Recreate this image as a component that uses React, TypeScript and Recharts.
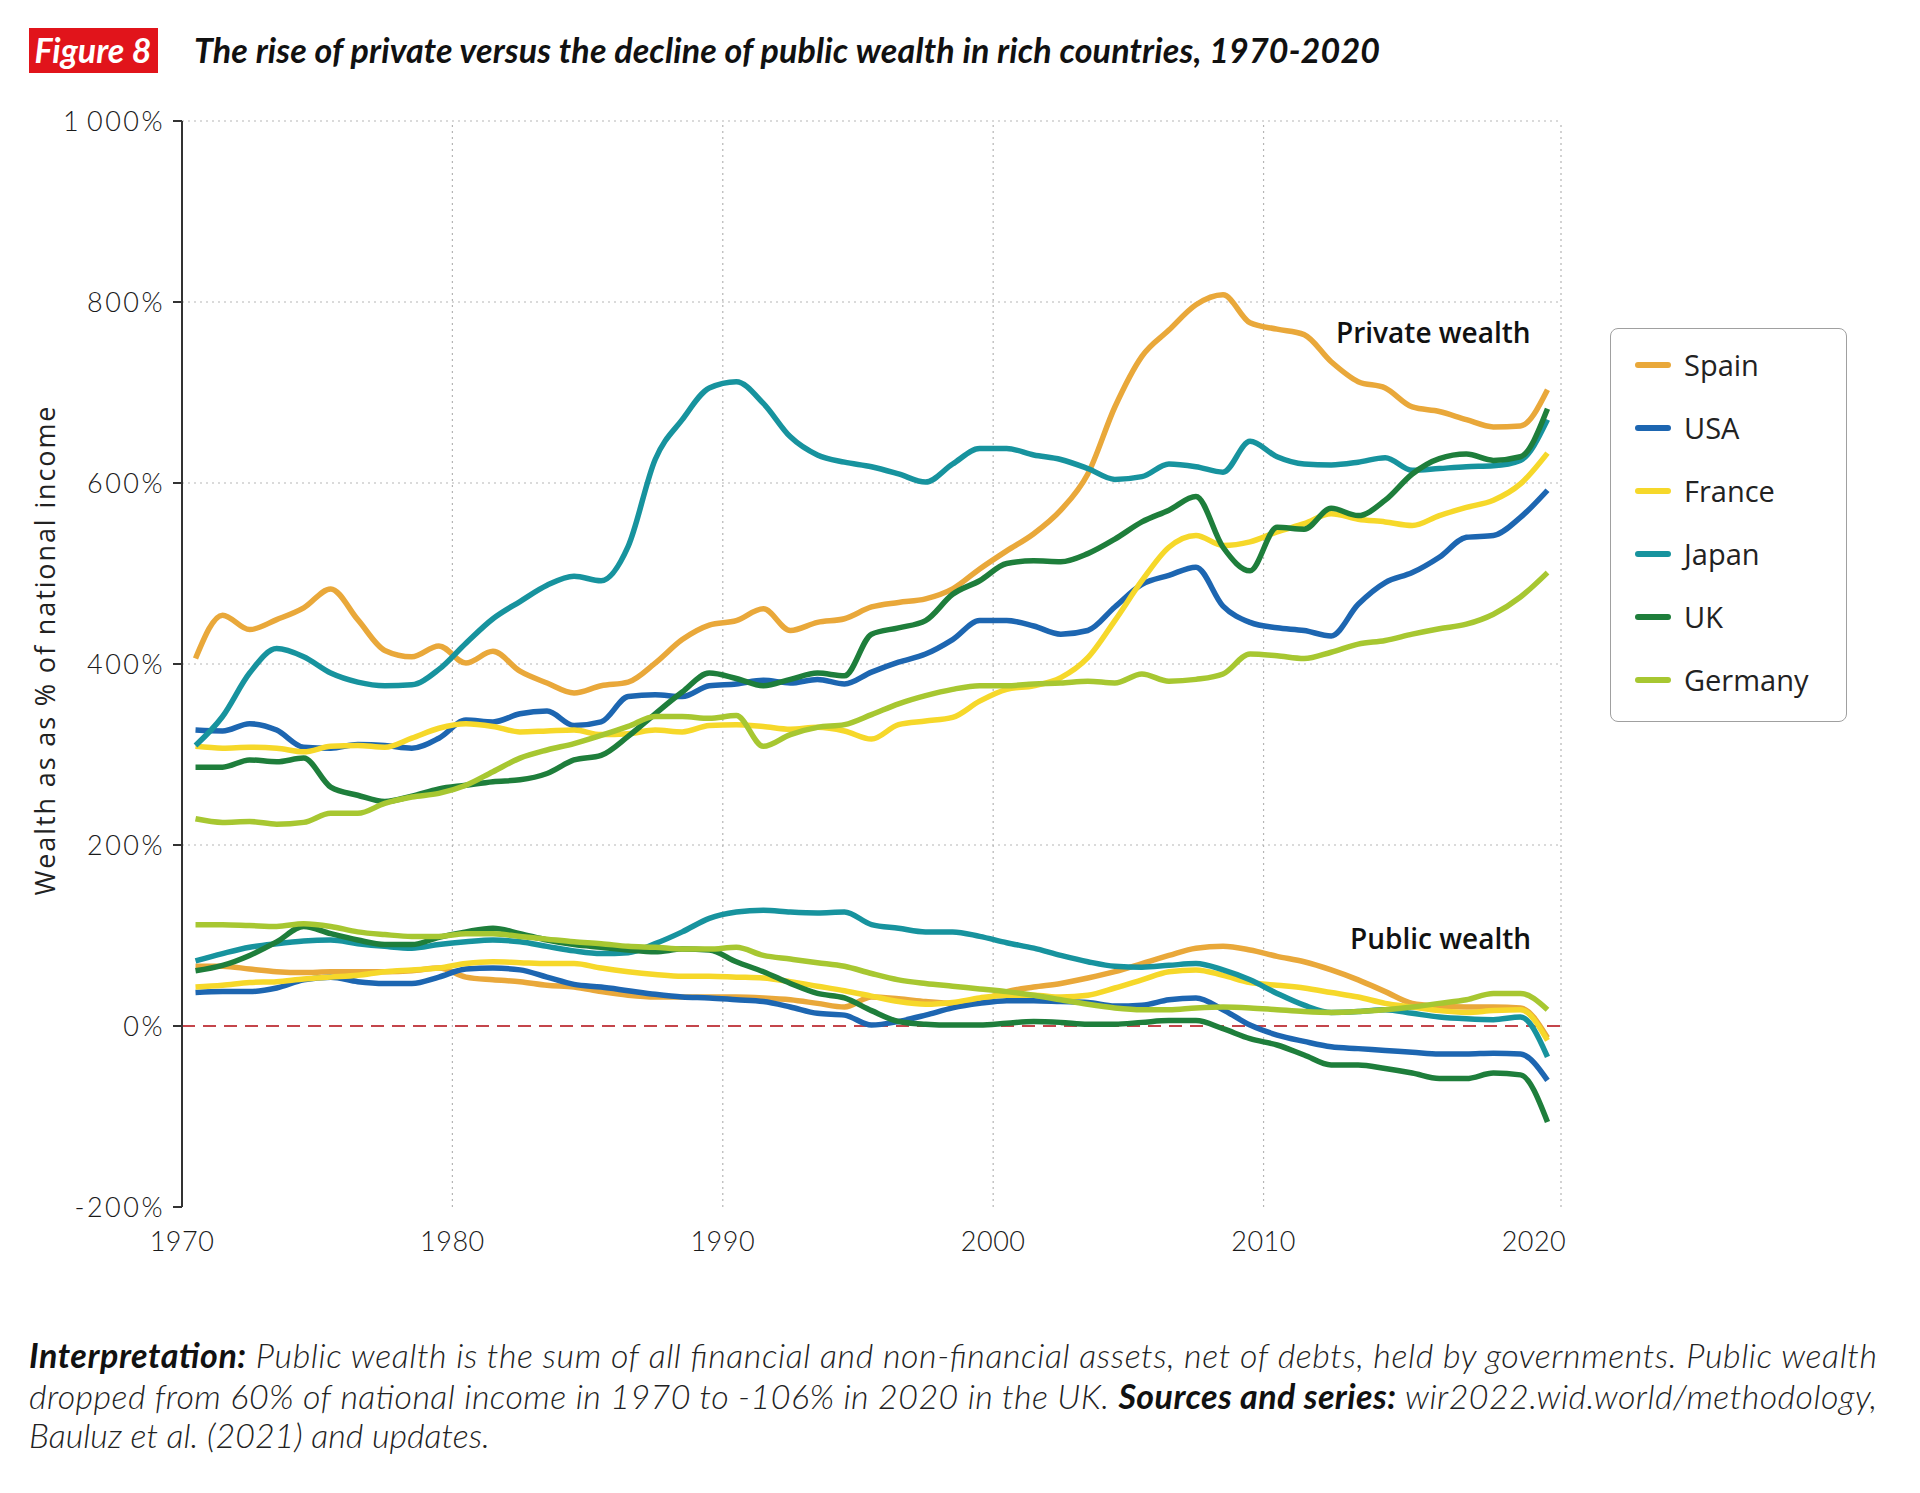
import React from 'react';
import { LineChart, Line, XAxis, YAxis, ReferenceLine, Legend } from 'recharts';

const YEARS = [
  1970, 1971, 1972, 1973, 1974, 1975, 1976, 1977, 1978, 1979,
  1980, 1981, 1982, 1983, 1984, 1985, 1986, 1987, 1988, 1989,
  1990, 1991, 1992, 1993, 1994, 1995, 1996, 1997, 1998, 1999,
  2000, 2001, 2002, 2003, 2004, 2005, 2006, 2007, 2008, 2009,
  2010, 2011, 2012, 2013, 2014, 2015, 2016, 2017, 2018, 2019, 2020,
];

const COUNTRIES = ['Spain', 'USA', 'France', 'Japan', 'UK', 'Germany'];
const COLORS = ['#E9A83A', '#1D66B1', '#F6D82A', '#17939E', '#1E7E3B', '#A7C731'];

// private wealth, % of national income
const SPAIN_PRIVATE = [406, 454, 438, 449, 462, 483, 449, 415, 408, 420, 401, 414, 392, 379, 368, 376, 380, 401, 427, 443, 448, 461, 437, 446, 450, 463, 468, 472, 483, 505, 525, 544, 570, 610, 684, 740, 769, 797, 808, 777, 770, 764, 734, 712, 705, 684, 679, 670, 662, 663, 703];
const USA_PRIVATE = [327, 326, 334, 327, 308, 307, 311, 310, 307, 318, 338, 336, 345, 348, 332, 336, 364, 366, 364, 376, 378, 382, 379, 383, 378, 391, 402, 411, 427, 448, 448, 442, 433, 437, 463, 488, 498, 507, 464, 446, 440, 437, 431, 466, 490, 501, 518, 540, 542, 562, 592];
const FRANCE_PRIVATE = [309, 307, 308, 307, 303, 309, 310, 308, 318, 329, 334, 331, 325, 326, 327, 322, 323, 327, 325, 332, 333, 331, 328, 330, 326, 317, 333, 337, 341, 359, 372, 376, 385, 407, 448, 492, 529, 542, 531, 535, 546, 555, 566, 560, 557, 553, 564, 573, 581, 599, 633];
const JAPAN_PRIVATE = [310, 342, 390, 417, 408, 390, 380, 376, 377, 394, 423, 450, 469, 487, 497, 492, 530, 626, 670, 705, 712, 688, 651, 631, 623, 618, 610, 601, 621, 638, 638, 631, 626, 616, 604, 607, 621, 618, 612, 646, 629, 621, 620, 623, 628, 614, 616, 618, 619, 625, 670];
const UK_PRIVATE = [286, 286, 294, 292, 296, 264, 255, 248, 254, 262, 266, 270, 272, 279, 294, 299, 320, 345, 369, 390, 384, 376, 383, 390, 387, 433, 440, 448, 477, 492, 511, 514, 513, 522, 538, 557, 570, 585, 529, 503, 551, 549, 572, 564, 581, 610, 627, 632, 625, 629, 682];
const GERMANY_PRIVATE = [229, 225, 226, 223, 225, 235, 235, 246, 253, 257, 266, 281, 296, 305, 312, 321, 331, 342, 342, 340, 343, 309, 322, 330, 333, 344, 356, 365, 372, 376, 376, 378, 379, 381, 379, 389, 381, 383, 389, 411, 409, 406, 413, 422, 426, 433, 439, 444, 455, 474, 501];

// public wealth, % of national income
const SPAIN_PUBLIC = [66, 66, 63, 60, 59, 60, 60, 60, 61, 64, 54, 51, 49, 45, 43, 38, 34, 32, 32, 32, 32, 31, 29, 25, 21, 32, 30, 27, 25, 28, 38, 43, 47, 53, 60, 69, 78, 86, 88, 84, 77, 71, 62, 51, 38, 25, 22, 21, 21, 20, -13];
const USA_PUBLIC = [37, 38, 38, 42, 51, 54, 49, 47, 47, 54, 63, 64, 62, 54, 46, 43, 39, 35, 32, 31, 29, 27, 21, 14, 12, 1, 5, 12, 20, 25, 28, 28, 27, 26, 22, 23, 29, 31, 18, 1, -10, -17, -23, -25, -27, -29, -31, -31, -30, -31, -60];
const FRANCE_PUBLIC = [43, 45, 48, 49, 52, 54, 56, 60, 62, 64, 69, 71, 70, 69, 69, 64, 60, 57, 55, 55, 54, 53, 49, 44, 39, 33, 27, 24, 26, 31, 34, 34, 32, 34, 42, 51, 60, 62, 56, 48, 45, 42, 37, 32, 25, 21, 17, 15, 17, 18, -16];
const JAPAN_PUBLIC = [72, 80, 87, 91, 94, 95, 91, 88, 86, 90, 93, 95, 93, 88, 83, 80, 81, 91, 104, 119, 126, 128, 126, 125, 126, 112, 108, 104, 104, 99, 92, 86, 78, 71, 66, 65, 67, 69, 62, 51, 36, 23, 15, 16, 18, 14, 10, 8, 7, 10, -34];
const UK_PUBLIC = [61, 67, 78, 93, 110, 102, 95, 90, 90, 98, 104, 108, 102, 95, 90, 87, 84, 82, 85, 84, 71, 60, 47, 36, 31, 17, 5, 2, 1, 1, 3, 5, 4, 2, 2, 4, 6, 6, -3, -14, -21, -32, -43, -43, -47, -52, -58, -58, -52, -54, -106];
const GERMANY_PUBLIC = [112, 112, 111, 110, 113, 110, 104, 101, 99, 99, 102, 102, 99, 96, 93, 91, 88, 87, 85, 85, 87, 78, 74, 70, 66, 58, 51, 47, 44, 41, 38, 34, 29, 24, 20, 18, 18, 20, 21, 20, 18, 16, 15, 16, 18, 21, 25, 29, 36, 36, 18];

const PRIVATE = [SPAIN_PRIVATE, USA_PRIVATE, FRANCE_PRIVATE, JAPAN_PRIVATE, UK_PRIVATE, GERMANY_PRIVATE];
const PUBLIC = [SPAIN_PUBLIC, USA_PUBLIC, FRANCE_PUBLIC, JAPAN_PUBLIC, UK_PUBLIC, GERMANY_PUBLIC];

const Y_TICKS = [-200, 0, 200, 400, 600, 800, 1000];
const Y_GRID = [200, 400, 600, 800, 1000];
const YEAR_LABELS = [1970, 1980, 1990, 2000, 2010, 2020];
const AXIS_TICKS = [1970, 1980, 1990, 2000, 2010, 2021];
const X_GRID = [1980, 1990, 2000, 2010, 2021];

// values are yearly averages, drawn at mid-year
const rows = YEARS.map((year, i) => {
  const row: Record<string, number> = { x: year + 0.5 };
  COUNTRIES.forEach((c, k) => {
    row[c + '_private'] = PRIVATE[k][i];
    row[c + '_public'] = PUBLIC[k][i];
  });
  return row;
});

const fmtPct = (v: number) => (v === 1000 ? '1\u2009000%' : `${v}%`);

const gridStyle = { stroke: '#b5b5b5', strokeWidth: 1.2, strokeDasharray: '2 4' };

function LegendBox() {
  return (
    <div
      style={{
        boxSizing: 'border-box',
        width: 237,
        height: 394,
        border: '1.5px solid #a0a0a0',
        borderRadius: 8,
        background: '#fff',
        paddingTop: 4,
        paddingLeft: 24,
      }}
    >
      {COUNTRIES.map((c, i) => (
        <div key={c} style={{ height: 63, display: 'flex', alignItems: 'center' }}>
          <div style={{ width: 36, height: 6, borderRadius: 3, background: COLORS[i], marginRight: 13 }} />
          <span style={{ fontFamily: '"Open Sans", sans-serif', fontSize: 29, color: '#222' }}>{c}</span>
        </div>
      ))}
    </div>
  );
}

export default function App() {
  return (
    <div style={{ position: 'absolute', left: 0, top: 0, width: 1920, height: 1493, background: '#fff', overflow: 'hidden' }}>
      <div style={{ position: 'absolute', left: 0, top: 0 }}>
        <LineChart width={1920} height={1493} data={rows} margin={{ top: 121, right: 359, bottom: 226, left: 0 }}>
          <XAxis
            xAxisId="main"
            type="number"
            dataKey="x"
            domain={[1970, 2021]}
            ticks={AXIS_TICKS}
            tick={false}
            tickSize={9}
            height={0}
            stroke="#333"
            strokeWidth={2}
          />
          <XAxis
            xAxisId="labels"
            type="number"
            dataKey="x"
            domain={[1970, 2021]}
            ticks={YEAR_LABELS}
            interval={0}
            tickLine={false}
            axisLine={false}
            tickSize={9}
            tickMargin={16}
            height={60}
            tick={{ fill: '#1a1a1a', fontSize: 27, fontFamily: 'Lato, sans-serif', fontWeight: 300, letterSpacing: 0.5 }}
          />
          <YAxis
            type="number"
            domain={[-200, 1000]}
            ticks={Y_TICKS}
            interval={0}
            width={182}
            tickSize={9}
            tickMargin={8}
            tickFormatter={fmtPct}
            stroke="#333"
            strokeWidth={2}
            tick={{ fill: '#1a1a1a', fontSize: 27, fontFamily: 'Lato, sans-serif', fontWeight: 300, letterSpacing: 2.5 }}
          />
          {Y_GRID.map((v) => (
            <ReferenceLine key={'gy' + v} xAxisId="main" y={v} {...gridStyle} />
          ))}
          {X_GRID.map((v) => (
            <ReferenceLine key={'gx' + v} xAxisId="main" x={v} {...gridStyle} />
          ))}
          <ReferenceLine xAxisId="main" y={0} stroke="#C4454B" strokeWidth={2.2} strokeDasharray="13 8" />
          {COUNTRIES.map((c, i) => (
            <Line
              key={c + '_public'}
              xAxisId="main"
              type="monotone"
              dataKey={c + '_public'}
              stroke={COLORS[i]}
              strokeWidth={5.5}
              dot={false}
              activeDot={false}
              isAnimationActive={false}
            />
          ))}
          {COUNTRIES.map((c, i) => (
            <Line
              key={c + '_private'}
              xAxisId="main"
              type="monotone"
              dataKey={c + '_private'}
              stroke={COLORS[i]}
              strokeWidth={5.5}
              dot={false}
              activeDot={false}
              isAnimationActive={false}
            />
          ))}
          <Legend
            layout="vertical"
            align="center"
            verticalAlign="middle"
            wrapperStyle={{ left: 1610, top: 328, width: 237, height: 394 }}
            content={() => <LegendBox />}
          />
        </LineChart>
      </div>
      <svg width={1920} height={1493} style={{ position: 'absolute', left: 0, top: 0, pointerEvents: 'none' }}>
        <rect x={29} y={28} width={129} height={45} fill="#E1141B" />
        <text x={93} y={63} textAnchor="middle" fill="#fff" fontFamily="Lato, sans-serif" fontStyle="italic" fontWeight={700} fontSize={34}>
          Figure 8
        </text>
        <text x={194} y={63} fill="#111" fontFamily="Lato, sans-serif" fontStyle="italic" fontWeight={700} fontSize={34} textLength={1186} lengthAdjust="spacing">
          The rise of private versus the decline of public wealth in rich countries, 1970-2020
        </text>
        <text
          x={55}
          y={651}
          transform="rotate(-90 55 651)"
          textAnchor="middle"
          fill="#222"
          fontFamily='"Open Sans", sans-serif'
          fontSize={27}
          textLength={489}
          lengthAdjust="spacing"
        >
          Wealth as as % of national income
        </text>
        <text x={1336} y={343} fill="#111" fontFamily='"Open Sans", sans-serif' fontWeight={600} fontSize={28}>
          Private wealth
        </text>
        <text x={1350} y={949} fill="#111" fontFamily='"Open Sans", sans-serif' fontWeight={600} fontSize={28}>
          Public wealth
        </text>
        <g fontFamily="Lato, sans-serif" fontStyle="italic" fontSize={34} fill="#222">
          <text x={29} y={1368} textLength={1848} lengthAdjust="spacing">
            <tspan fontWeight={700} fill="#111">Interpretation:</tspan>
            <tspan fontWeight={300}> Public wealth is the sum of all financial and non-financial assets, net of debts, held by governments. Public wealth</tspan>
          </text>
          <text x={29} y={1409} textLength={1848} lengthAdjust="spacing">
            <tspan fontWeight={300}>dropped from 60% of national income in 1970 to -106% in 2020 in the UK. </tspan>
            <tspan fontWeight={700} fill="#111">Sources and series:</tspan>
            <tspan fontWeight={300}> wir2022.wid.world/methodology,</tspan>
          </text>
          <text x={29} y={1448} fontWeight={300}>
            Bauluz et al. (2021) and updates.
          </text>
        </g>
      </svg>
    </div>
  );
}
